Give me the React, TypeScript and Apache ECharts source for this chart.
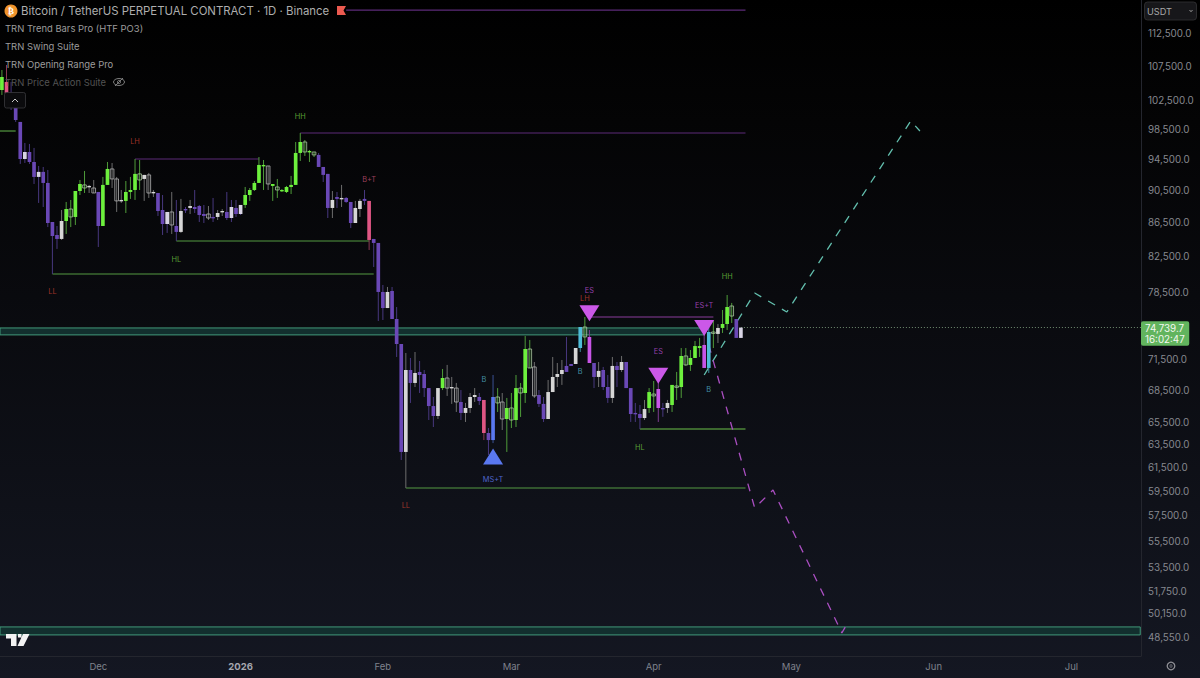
import * as echarts from "echarts";
import { useEffect, useRef } from "react";

const DAY = 86400000;
const day = (s: string) => Date.parse(s + "T00:00:00Z");

// daily bars, first one is 2025-11-10
const firstBar = day("2025-11-10");

const opens = [
	104060, 105230, 103630, 101910, 99530, 94520, 95450, 94130, 92190, 92840,
	91420, 86580, 85030, 84560, 86700, 88160, 87190, 90400, 91170, 90910,
	90780, 90280, 86100, 91170, 93220, 91930, 89160, 89160, 90280, 90530,
	92580, 91930, 92450, 90150, 90150, 88040, 86340, 87800, 86100, 85390,
	88160, 88290, 88410, 88530, 87550, 87550, 87190, 87190, 87800, 87800,
	87060, 88290, 87550, 88660, 89900, 90530, 91420, 93610, 93610, 91040,
	90910, 90400, 90280, 90910, 91170, 95320, 96790, 95450, 95450, 95060,
	93480, 92580, 88290, 89650, 89410, 89530, 89030, 86460, 88160, 89410,
	89160, 84560, 84090, 78540, 76800, 78650, 75640, 73050, 62850, 70450,
	69190, 70260, 70060, 68700, 67000, 66080, 68700, 69670, 68700, 68700,
	67380, 66360, 66820, 67850, 67850, 67570, 64530, 63900, 67850, 67380,
	65800, 66820, 65710, 68700, 68230, 72540, 70750, 68040, 67200, 65800,
	68320, 69770, 70060, 70850, 71040, 71040, 72640, 74800, 73770, 71140,
	69770, 70450, 68800, 67760, 70850, 70450, 71240, 68700, 66360, 66260,
	65890, 66820, 68130, 68610, 66820, 66820, 67100, 68900, 68800, 71840,
	70950, 71640, 72640, 72950, 70650, 74280, 74080, 74700, 75110, 77020,
	75640, 73670,
];
const closes = [
	105960, 103630, 101910, 99800, 94520, 95450, 94130, 92190, 92840, 91420,
	86460, 84910, 84560, 86700, 88160, 87190, 90400, 91290, 90780, 91040,
	90150, 86100, 91170, 93220, 91930, 89160, 89280, 90280, 90530, 92580,
	91800, 92450, 90150, 90280, 87920, 86340, 87800, 86220, 85390, 87920,
	88040, 88530, 88160, 87430, 87310, 87060, 87060, 87670, 87920, 87060,
	88410, 87550, 88660, 89900, 90530, 91420, 93740, 93740, 91290, 91290,
	90530, 90530, 90910, 91170, 95320, 96790, 95450, 95580, 95060, 93480,
	92450, 88290, 89280, 89410, 89530, 89030, 86460, 88290, 89160, 89160,
	84440, 84090, 78540, 76800, 78540, 75640, 73050, 62850, 70450, 69190,
	70160, 69960, 68700, 67000, 66080, 68700, 69670, 68700, 68800, 67380,
	66360, 66820, 67850, 68040, 67470, 64530, 63900, 67850, 67290, 65800,
	66820, 65710, 68700, 68230, 72540, 70650, 67950, 67200, 65800, 68320,
	69770, 70060, 70450, 70260, 70850, 72640, 74800, 73770, 71140, 69770,
	70360, 68800, 67760, 70850, 70450, 71240, 68700, 66260, 66260, 65890,
	66720, 68320, 67950, 66820, 66720, 67290, 69000, 68800, 71840, 70950,
	71640, 72840, 72840, 70650, 74280, 74180, 74700, 75110, 76910, 75950,
	73670, 74740,
];
const highs = [
	107000, 107750, 105230, 103340, 99530, 96660, 96520, 95990, 93610, 93480,
	93090, 86580, 86100, 88040, 89030, 89280, 90400, 91800, 92960, 91170,
	91800, 90280, 92190, 94130, 94000, 92190, 90530, 91670, 92190, 94520,
	94390, 92450, 92710, 90530, 90150, 89900, 87800, 90280, 89280, 89410,
	88410, 89280, 90530, 88660, 88660, 88530, 89530, 88040, 88160, 90280,
	89280, 89280, 88660, 90910, 90780, 91670, 94780, 94390, 93610, 91290,
	91930, 90650, 91040, 92320, 96790, 98010, 97060, 95720, 95450, 95320,
	93480, 92580, 90400, 90280, 91170, 89650, 89030, 89160, 89410, 90530,
	89160, 84560, 84090, 79310, 79090, 79090, 76910, 73050, 72140, 71640,
	72240, 71340, 70450, 68700, 67850, 68700, 70550, 70950, 69770, 69190,
	68510, 67290, 68230, 68700, 68230, 67570, 64980, 69960, 68700, 68230,
	67760, 68230, 69960, 69190, 73870, 73460, 71240, 68510, 67850, 69480,
	71740, 71140, 71440, 73770, 71040, 72640, 74800, 75850, 74490, 71140,
	71240, 70750, 69960, 71740, 71240, 71840, 71240, 68700, 67290, 67100,
	67570, 68700, 69380, 69380, 67290, 67570, 69000, 70260, 72640, 72640,
	72440, 73360, 73670, 74490, 75220, 75430, 75110, 76590, 78210, 77350,
	75640, 74700,
];
const lows = [
	103340, 102620, 101200, 99530, 93870, 94000, 93870, 91290, 88910, 88410,
	85970, 80530, 83390, 84440, 85150, 85970, 86220, 89900, 90150, 90150,
	90150, 83620, 86100, 91170, 90780, 87800, 88910, 87670, 89410, 89280,
	90530, 89160, 89530, 89650, 87310, 85030, 85270, 85150, 84320, 85270,
	87670, 87550, 87670, 86580, 86460, 86820, 86580, 86820, 87310, 86820,
	86580, 87190, 87430, 88290, 89160, 90400, 91420, 90530, 90530, 89160,
	89530, 90280, 90150, 90020, 91170, 94260, 94920, 94130, 94780, 93480,
	91540, 87060, 87060, 88290, 88410, 88910, 85850, 86460, 87190, 88660,
	83270, 81320, 75430, 75530, 76800, 75640, 71740, 62150, 59770, 67290,
	68800, 68230, 67850, 65710, 65070, 65800, 68510, 67950, 67200, 66450,
	65710, 65530, 66360, 67380, 67100, 63900, 62590, 63630, 66450, 64800,
	62850, 64980, 65070, 65990, 67290, 70650, 67760, 66910, 65530, 65800,
	68320, 68800, 69000, 70260, 70850, 71040, 72240, 72950, 71140, 68700,
	68800, 68510, 67290, 67290, 68800, 70260, 68700, 65530, 65530, 64890,
	65710, 66360, 66450, 65530, 66000, 66360, 66450, 67570, 67760, 70850,
	70360, 71640, 71740, 70650, 70160, 72640, 73150, 74180, 74490, 75220,
	73670, 73670,
];
// trend state painted on each bar
const kinds = (
	"g r p p p v p p v p " +
	"p p p w g k g g k w " +
	"h p g g h h w g g g " +
	"k w h w p p v h p w " +
	"p w p p p h p w w p " +
	"v p v g g g g g h g " +
	"k g g g g g k g k p " +
	"p p w p w p p w w p " +
	"r p p p w p p p w p " +
	"w p p p p w g h w h " +
	"p w w w p r p b k h " +
	"g k g k g k h p p w " +
	"w w w p p w c k m p " +
	"w p p w p w p p p p " +
	"w g k m p w g k g k " +
	"g g g m c k w g g k " +
	"p v"
).trim().split(" ");

const priceTicks = [
	112500, 107500, 102500, 98500, 94500, 90500, 86500, 82500, 78500, 71500, 68500,
	65500, 63500, 61500, 59500, 57500, 55500, 53500, 51750, 50150, 48550,
];
const monthTicks = [
	"2025-12-01", "2026-01-01", "2026-02-01", "2026-03-01", "2026-04-01",
	"2026-05-01", "2026-06-01", "2026-07-01",
];
const monthNames = ["2026", "Feb", "Mar", "Apr", "May", "Jun", "Jul", "Aug", "Sep", "Oct", "Nov", "Dec"];

const lastPrice = 74739.7;
const countdown = "16:02:47";

// swing levels
const levelNames = ["high", "green", "high", "high", "green", "green", "entry", "green2", "green"];
const levelStarts = ["2026-01-24", "2025-11-09", "2026-01-14", "2025-12-09", "2025-12-18", "2025-11-21", "2026-03-18", "2026-03-29", "2026-02-06"];
const levelEnds = ["2026-04-21", "2025-11-13", "2026-04-21", "2026-01-05", "2026-01-29", "2026-01-30", "2026-04-14", "2026-04-21", "2026-04-21"];
const levelPrices = [116320, 98280, 98010, 94520, 84320, 80530, 75850, 64890, 59770];

// opening range zones: from, to, low, high
const zoneStarts = ["2025-11-09", "2025-11-09"];
const zoneEnds = ["2026-04-12", "2026-07-16"];
const zoneLows = [73980, 48710];
const zoneHighs = [74700, 49255];

// markers
const upMarkerDates = ["2026-02-25"];
const upMarkerPrices = [62460];
const downMarkerDates = ["2026-03-18", "2026-04-02", "2026-04-12"];
const downMarkerPrices = [76250, 69900, 74700];

// small swing tags
const tagTexts = ["LH", "HH", "HL", "LL", "B+T", "B", "ES", "LH", "MS+T", "LL", "ES", "ES+T", "HL", "B", "B", "HH"];
const tagDates = ["2025-12-09", "2026-01-14", "2025-12-18", "2025-11-21", "2026-01-29", "2026-02-23", "2026-03-18", "2026-03-17", "2026-02-25", "2026-02-06", "2026-04-02", "2026-04-12", "2026-03-29", "2026-03-16", "2026-04-13", "2026-04-17"];
const tagPrices = [96790, 100220, 82230, 78540, 91800, 69480, 78650, 77780, 60520, 58300, 72240, 77020, 63280, 70260, 68610, 80300];

// hand drawn projections
const bullDates = ["2026-04-12", "2026-04-23", "2026-04-30", "2026-05-27", "2026-05-29"];
const bullPrices = [69960, 78430, 76380, 99660, 98280];
const bearDates = ["2026-04-13", "2026-04-23", "2026-04-27", "2026-05-12", "2026-05-13"];
const bearPrices = [72950, 58140, 59600, 48850, 49390];

const legendLines = ["TRN Trend Bars Pro (HTF PO3)", "TRN Swing Suite", "TRN Opening Range Pro"];

const barStyles: Record<string, { fill: string; stroke: string; wick: string }> = {
	g: { fill: "#6df03d", stroke: "#6df03d", wick: "#4f9c3a" },
	p: { fill: "#6a48b6", stroke: "#6a48b6", wick: "#48387f" },
	w: { fill: "#d6d6d6", stroke: "#d6d6d6", wick: "#6d6d6d" },
	v: { fill: "#d8d4e4", stroke: "#d8d4e4", wick: "#48387f" },
	h: { fill: "none", stroke: "#b4b4b4", wick: "#6d6d6d" },
	k: { fill: "none", stroke: "#a9c7a0", wick: "#4f9c3a" },
	r: { fill: "#df5684", stroke: "#df5684", wick: "#8c3a55" },
	m: { fill: "#c755e6", stroke: "#c755e6", wick: "#7d3c90" },
	b: { fill: "#5a78f0", stroke: "#5a78f0", wick: "#3a5194" },
	c: { fill: "#4fbcd8", stroke: "#4fbcd8", wick: "#3a8a9c" },
};
const levelColors: Record<string, string> = {
	high: "#5c2b78",
	green: "#559a42",
	green2: "#6cc24a",
	entry: "#8a3d9c",
};
const tagColors: Record<string, string> = {
	LH: "#c23f30",
	LL: "#c23f30",
	HH: "#6cc23f",
	HL: "#6cc23f",
	"B+T": "#c24f72",
	"MS+T": "#5f7df5",
	ES: "#b84ed2",
	"ES+T": "#b84ed2",
	B: "#52b0c6",
};

echarts.graphic.registerShape(
	"tvlogo",
	echarts.graphic.extendPath("M0 0H10.5V12H5V4.5H0Z M12 0H15.5V3.5H12Z M17 0H23.5L17.5 12H11.5Z", {}),
);

const labelFont = "Inter, 'Noto Sans', sans-serif";

export default function App() {
	const chartRef = useRef<HTMLDivElement>(null);

	useEffect(() => {
		if (!chartRef.current) return;
		const chart = echarts.init(chartRef.current, undefined, { renderer: "svg" });

		const bars = opens.map((o, i) => [firstBar + i * DAY, o, closes[i], lows[i], highs[i]]);

		const renderBar = (params: any, api: any) => {
			const s = barStyles[kinds[params.dataIndex]];
			const t = api.value(0);
			const [x, top] = api.coord([t, Math.max(api.value(1), api.value(2))]);
			const bottom = api.coord([t, Math.min(api.value(1), api.value(2))])[1];
			const high = api.coord([t, api.value(4)])[1];
			const low = api.coord([t, api.value(3)])[1];
			const w = (api.coord([t + DAY, api.value(1)])[0] - x) * 0.8;
			return {
				type: "group",
				children: [
					{ type: "line", shape: { x1: x, y1: high, x2: x, y2: low }, style: { stroke: s.wick, lineWidth: 1 } },
					{
						type: "rect",
						shape: { x: x - w / 2, y: top, width: w, height: Math.max(bottom - top, 1.4) },
						style: { fill: s.fill, stroke: s.stroke, lineWidth: s.fill === "none" ? 0.8 : 0 },
					},
				],
			};
		};

		const levelSeries = levelPrices.map((p, i) => ({
			type: "line",
			silent: true,
			showSymbol: false,
			z: 1,
			lineStyle: { color: levelColors[levelNames[i]], width: 1.2 },
			data: [
				[day(levelStarts[i]), p],
				[day(levelEnds[i]), p],
			],
		}));

		const chrome = [
			// symbol line
			{ type: "circle", shape: { cx: 11, cy: 11, r: 6.5 }, style: { fill: "#f0932b" } },
			{ type: "text", x: 11, y: 11, style: { text: "₿", fill: "#fff", font: "bold 9px 'DejaVu Sans'", align: "center", verticalAlign: "middle" } },
			{ type: "text", x: 21, y: 11, style: { text: "Bitcoin / TetherUS PERPETUAL CONTRACT · 1D · Binance", fill: "#aeaeae", font: `11.4px ${labelFont}`, verticalAlign: "middle" } },
			{ type: "polygon", shape: { points: [[337, 6], [346, 6], [343.5, 10.5], [346, 15], [337, 15]] }, style: { fill: "#ec5a50" } },
			...legendLines.map((text, i) => ({
				type: "text",
				x: 5,
				y: 28.5 + i * 18,
				style: { text, fill: "#9c9c9c", font: `9.45px ${labelFont}`, verticalAlign: "middle" },
			})),
			{ type: "text", x: 5, y: 82, style: { text: "TRN Price Action Suite", fill: "#525252", font: `9.45px ${labelFont}`, verticalAlign: "middle" } },
			// hidden-indicator eye
			{ type: "ellipse", shape: { cx: 119, cy: 82, rx: 5.5, ry: 3.5 }, style: { fill: "none", stroke: "#8a8a8a", lineWidth: 0.9 } },
			{ type: "circle", shape: { cx: 119, cy: 82, r: 1.6 }, style: { fill: "none", stroke: "#8a8a8a", lineWidth: 0.8 } },
			{ type: "line", shape: { x1: 115, y1: 86, x2: 123, y2: 78 }, style: { stroke: "#8a8a8a", lineWidth: 0.9 } },
			// collapse button
			{ type: "rect", shape: { x: 4.5, y: 92.5, width: 21, height: 15.5, r: 2 }, style: { fill: "#0b0b0d", stroke: "#3a3a3e", lineWidth: 0.8 } },
			{ type: "polyline", shape: { points: [[12, 102], [15, 99], [18, 102]] }, style: { fill: "none", stroke: "#c8c8c8", lineWidth: 1 } },
			// currency select
			{ type: "rect", shape: { x: 1144.5, y: 2, width: 52, height: 18, r: 3 }, style: { fill: "#17171a", stroke: "#333336", lineWidth: 0.8 } },
			{ type: "text", x: 1147, y: 11.5, style: { text: "USDT", fill: "#a8a8a8", font: `9.2px ${labelFont}`, verticalAlign: "middle" } },
			{ type: "polyline", shape: { points: [[1189.5, 10], [1191, 11.7], [1192.5, 10]] }, style: { fill: "none", stroke: "#a8a8a8", lineWidth: 0.9 } },
			// logo and settings
			{ type: "tvlogo", x: 6, y: 634, scaleX: 1, scaleY: 1, style: { fill: "#f2f2f2" } },
			{ type: "circle", shape: { cx: 1171, cy: 666, r: 3.8 }, style: { fill: "none", stroke: "#8e8e94", lineWidth: 1.3 } },
			{ type: "circle", shape: { cx: 1171, cy: 666, r: 1.2 }, style: { fill: "none", stroke: "#8e8e94", lineWidth: 0.8 } },
		].map((el) => ({ ...el, z: 200 }));

		chart.setOption({
			animation: false,
			backgroundColor: {
				type: "linear",
				x: 0,
				y: 0,
				x2: 0,
				y2: 1,
				colorStops: [
					{ offset: 0, color: "#000000" },
					{ offset: 0.18, color: "#040405" },
					{ offset: 1, color: "#141722" },
				],
			},
			grid: { left: 0, right: 59, top: 0, bottom: 22 },
			xAxis: {
				type: "value",
				min: Date.UTC(2025, 10, 9, 14),
				max: Date.UTC(2026, 6, 16, 4),
				axisLine: { show: true, onZero: false, lineStyle: { color: "#24262e", width: 1 } },
				axisTick: { show: false },
				splitLine: { show: false },
				axisLabel: {
					customValues: monthTicks.map(day),
					margin: 5,
					color: "#7f828c",
					fontFamily: labelFont,
					fontSize: 9.5,
					hideOverlap: false,
					formatter: (v: number) => {
						const m = new Date(v).getUTCMonth();
						return m === 0 ? "{year|2026}" : monthNames[m];
					},
					rich: { year: { fontWeight: "bold", color: "#a5a7af", fontSize: 9.5, fontFamily: labelFont } },
				},
			},
			yAxis: {
				type: "log",
				logBase: Math.E,
				position: "right",
				min: 47300,
				max: 117956,
				axisLine: { show: true, lineStyle: { color: "#24262e", width: 1 } },
				axisTick: { show: false },
				splitLine: { show: false },
				axisLabel: {
					customValues: priceTicks,
					margin: 7,
					color: "#86888f",
					fontFamily: labelFont,
					fontSize: 9.8,
					align: "left",
					formatter: (v: number) => v.toLocaleString("en-US", { minimumFractionDigits: 1, maximumFractionDigits: 1 }),
				},
			},
			graphic: { elements: chrome },
			series: [
				{
					type: "line",
					silent: true,
					showSymbol: false,
					data: [],
					z: 0,
					markArea: {
						silent: true,
						itemStyle: { color: "#122f2e", borderColor: "#40997a", borderWidth: 1 },
						data: zoneLows.map((low, i) => [
							{ xAxis: day(zoneStarts[i]), yAxis: zoneHighs[i] },
							{ xAxis: day(zoneEnds[i]), yAxis: low },
						]),
					},
				},
				...levelSeries,
				{
					type: "line",
					silent: true,
					showSymbol: false,
					z: 5,
					lineStyle: { color: "#63bfae", width: 1.3, type: [8, 8] },
					data: bullDates.map((d, i) => [day(d), bullPrices[i]]),
				},
				{
					type: "line",
					silent: true,
					showSymbol: false,
					z: 5,
					lineStyle: { color: "#ab4fc2", width: 1.3, type: [8, 8] },
					data: bearDates.map((d, i) => [day(d), bearPrices[i]]),
				},
				{
					type: "custom",
					z: 10,
					silent: true,
					encode: { x: 0, y: [1, 2, 3, 4] },
					renderItem: renderBar,
					data: bars,
				},
				{
					type: "scatter",
					silent: true,
					z: 20,
					symbol: "triangle",
					symbolSize: [20, 16],
					itemStyle: { color: "#5a78f0", opacity: 1 },
					data: upMarkerDates.map((d, i) => [day(d), upMarkerPrices[i]]),
				},
				{
					type: "scatter",
					silent: true,
					z: 20,
					symbol: "triangle",
					symbolRotate: 180,
					symbolSize: [20, 16],
					itemStyle: { color: "#cb58e8", opacity: 1 },
					data: downMarkerDates.map((d, i) => [day(d), downMarkerPrices[i]]),
				},
				{
					type: "scatter",
					silent: true,
					z: 21,
					symbolSize: 0,
					data: tagTexts.map((text, i) => ({
						value: [day(tagDates[i]), tagPrices[i]],
						label: {
							show: true,
							position: "inside",
							formatter: text,
							color: tagColors[text],
							fontSize: 7.4,
							fontFamily: labelFont,
						},
					})),
				},
				{
					type: "line",
					silent: true,
					showSymbol: false,
					data: [],
					z: 6,
					markLine: {
						silent: true,
						symbol: "none",
						lineStyle: { color: "#6f8a70", width: 1, type: [1, 2] },
						label: {
							show: true,
							position: "end",
							distance: 0,
							offset: [0, 6],
							formatter: lastPrice.toLocaleString("en-US") + "\n" + countdown,
							color: "#f2f7ef",
							backgroundColor: "#62b45e",
							borderRadius: 2,
							padding: [1.5, 4.5, 1, 4],
							lineHeight: 11,
							fontSize: 9.8,
							fontFamily: labelFont,
						},
						data: [
							[
								{ xAxis: firstBar + (opens.length - 1) * DAY, yAxis: lastPrice },
								{ xAxis: Date.UTC(2026, 6, 16, 4), yAxis: lastPrice },
							],
						],
					},
				},
			],
		});

		return () => chart.dispose();
	}, []);

	return <div ref={chartRef} style={{ position: "fixed", left: 0, top: 0, width: 1200, height: 678 }} />;
}
